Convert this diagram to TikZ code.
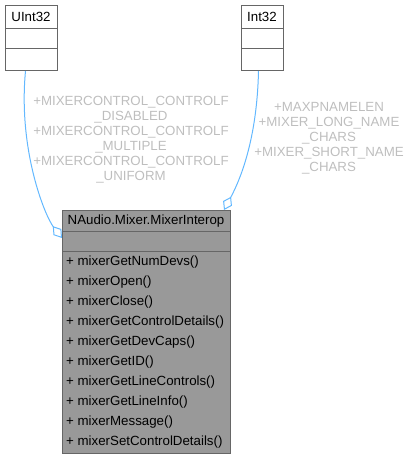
\documentclass[tikz,border=0pt]{standalone}
\usepackage{fontspec}
\setmainfont{Liberation Sans}
\usepackage{tikz}
\usetikzlibrary{arrows.meta}
\definecolor{edgeblue}{HTML}{63B8FF}
\definecolor{boxline}{HTML}{666666}
\definecolor{boxfill}{HTML}{999999}
\definecolor{lblgray}{HTML}{BEBEBE}
\tikzset{
  cls/.style={draw=boxline,line width=1pt,fill=white,inner sep=0pt,anchor=north west},
  txt/.style={font=\fontsize{13.3}{15}\selectfont,inner sep=0pt},
  lbl/.style={txt,text=lblgray,align=center},
  agg/.style={draw=edgeblue,line width=1pt,-{Diamond[open,length=15pt,width=10pt]}}
}
\begin{document}
\begin{tikzpicture}[x=1pt,y=-1pt]
\useasboundingbox (0,0) rectangle (410,459);
% used types
\node[cls,minimum width=52pt,minimum height=65pt] (uint) at (5,5) {};
\node[cls,minimum width=42pt,minimum height=65pt] (int) at (241,5) {};
\foreach \d in {23,43}{
\draw[boxline,line width=1pt] ([yshift=-\d pt]uint.north west)--([yshift=-\d pt]uint.north east);
\draw[boxline,line width=1pt] ([yshift=-\d pt]int.north west)--([yshift=-\d pt]int.north east);
}
\node[txt] (uintname) at (31,17) {UInt32};
\node[txt] (intname) at (262,17) {Int32};
% the class
\node[cls,fill=boxfill,minimum width=168pt,minimum height=243pt] (mixer) at (62,210) {};
\draw[boxline,line width=1pt] ([yshift=-21pt]mixer.north west)--([yshift=-21pt]mixer.north east)
([yshift=-41pt]mixer.north west)--([yshift=-41pt]mixer.north east);
\node[txt] (mixername) at (146,221) {NAudio.Mixer.MixerInterop};
\foreach \m [count=\i] in {mixerGetNumDevs,mixerOpen,mixerClose,mixerGetControlDetails,
mixerGetDevCaps,mixerGetID,mixerGetLineControls,mixerGetLineInfo,mixerMessage,mixerSetControlDetails}
\node[txt,anchor=west] (m\i) at (66,{242+20*\i}) {+ \m()};
% aggregations
\draw[agg]([xshift=-6pt]uint.south)..controls(18,150)and(45,216)..([yshift=-28pt]mixer.north west);
\draw[agg]([xshift=-4pt]int.south)..controls(257,140)and(240,180)..([xshift=-7pt]mixer.north east);
\node[lbl] (lblu) at (131,139.5) {+MIXERCONTROL\_CONTROLF\\\_DISABLED\\+MIXERCONTROL\_CONTROLF\\\_MULTIPLE\\+MIXERCONTROL\_CONTROLF\\\_UNIFORM};
\node[lbl] (lbli) at (329,138) {+MAXPNAMELEN\\+MIXER\_LONG\_NAME\\\_CHARS\\+MIXER\_SHORT\_NAME\\\_CHARS};
\end{tikzpicture}
\end{document}
